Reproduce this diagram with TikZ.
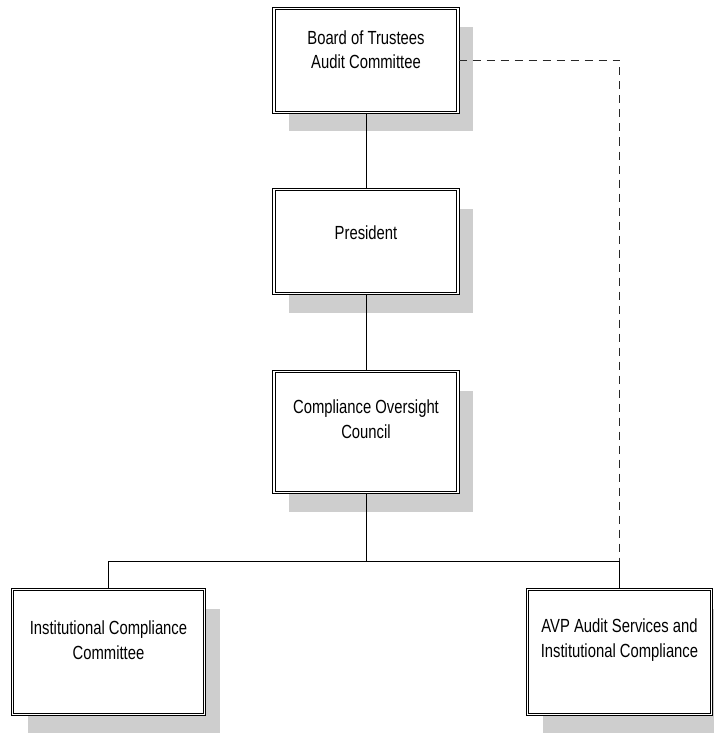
\documentclass[tikz,border=0pt]{standalone}
\usepackage{fontspec}
\setmainfont{Liberation Sans}[FakeStretch=0.78]
\definecolor{shadowgray}{RGB}{206,206,206}
\definecolor{linkgray}{RGB}{40,40,40}
\usetikzlibrary{shadows}
\tikzset{
  % Org chart box: double frame, flat grey drop shadow.
  org-box/.style 2 args={
    rectangle, draw=black, line width=1pt,
    double=white, double distance=1.5pt,
    fill=white,
    minimum width=#1, minimum height=#2,
    inner sep=0pt,
    drop shadow={shadow xshift=15pt, shadow yshift=-19pt,
                 fill=shadowgray, opacity=1},
  },
  % Text sits a little above the box centre.
  org-text/.style={
    align=center, inner sep=0pt,
    font=\fontsize{19pt}{24.5pt}\selectfont,
    text=black,
  },
  % Connectors.
  link/.style={draw=black, line width=1pt},
  link-dashed/.style={draw=linkgray, line width=1.4pt,
                      dash pattern=on 8pt off 6pt},
}
\begin{document}
\begin{tikzpicture}[x=1pt, y=-1pt]
  \useasboundingbox (0,0) rectangle (714,733);

  % Chain of command.
  \node[org-box={184pt}{104pt},
        label={[org-text, name=board-text, yshift=11pt]center:{Board of Trustees\\Audit Committee}}]
    (board) at (366, 60.5) {};
  \node[org-box={184pt}{104pt},
        label={[org-text, name=pres-text, yshift=8.5pt]center:{President}}]
    (pres) at (366, 241.5) {};
  \node[org-box={184pt}{121pt},
        label={[org-text, name=coc-text, yshift=13pt]center:{Compliance Oversight\\Council}}]
    (coc) at (366, 432) {};

  % Bottom row.
  \node[org-box={192pt}{125pt},
        label={[org-text, name=icc-text, yshift=12pt]center:{Institutional Compliance\\Committee}}]
    (icc) at (108.5, 652) {};
  \node[org-box={184pt}{125pt},
        label={[org-text, name=avp-text, yshift=12pt]center:{AVP Audit Services and\\Institutional Compliance}}]
    (avp) at (619.5, 652) {};

  \coordinate (bus) at (0, 561);

  \draw[link] (board.south) -- (pres.north);
  \draw[link] (pres.south) -- (coc.north);
  \draw[link] (coc.south) -- (coc.south |- bus);
  \draw[link] (icc.north) -- (icc.north |- bus) -- (avp.north |- bus) -- (avp.north);

  % Direct reporting line to the audit committee.
  \draw[link-dashed] (board.east) -| (avp.north |- bus);

\end{tikzpicture}
\end{document}
